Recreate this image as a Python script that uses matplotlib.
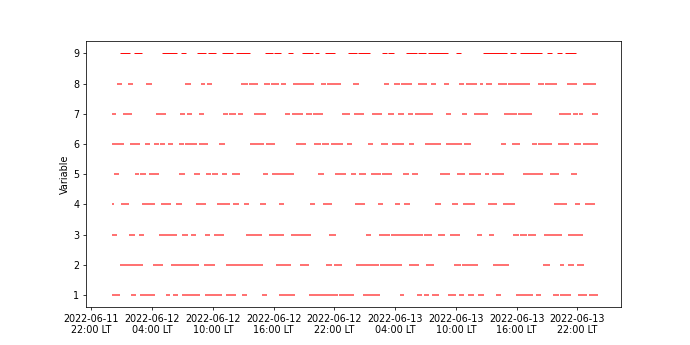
import numpy as np
import pandas as pd
import matplotlib
matplotlib.use("Agg")
import matplotlib.pyplot as plt
import matplotlib.dates as mdates

# availability windows per variable, hours after 2022-06-12 00:00 LT (start, end)
var1 = [(0.0, 0.86), (1.94, 2.44), (2.76, 4.31), (5.4, 5.8), (6.06, 6.52), (6.95, 8.76),
        (9.25, 10.9), (11.32, 12.31), (12.87, 13.37), (14.85, 15.34), (16.58, 18.13),
        (19.49, 22.35), (22.41, 23.89), (24.82, 26.46), (28.43, 28.92), (30.15, 30.64),
        (30.87, 31.39), (31.63, 32.32), (33.21, 34.03), (34.35, 34.84), (35.24, 35.74),
        (36.17, 36.82), (37.95, 38.44), (39.95, 41.66), (41.9, 42.42), (43.63, 44.13),
        (44.3, 45.35), (46.04, 46.99), (47.16, 47.98)]
var2 = [(0.79, 3.1), (4.05, 5.03), (5.89, 8.59), (9.08, 10.24), (11.32, 14.95),
        (16.26, 17.71), (18.64, 19.49), (21.13, 21.8), (22.0, 22.79), (24.13, 26.36),
        (26.52, 28.67), (29.32, 30.31), (31.07, 31.88), (33.84, 34.53), (34.63, 36.18),
        (37.65, 39.29), (42.59, 43.31), (44.23, 44.72), (45.11, 45.61), (45.94, 46.66)]
var3 = [(0.0, 0.53), (1.75, 2.27), (2.67, 3.16), (4.64, 6.46), (7.0, 7.5), (7.87, 8.36),
        (9.25, 9.74), (10.14, 11.06), (13.27, 14.85), (15.56, 16.98), (17.71, 19.68),
        (21.49, 22.18), (25.15, 25.64), (26.43, 27.45), (27.58, 30.74), (30.87, 31.63),
        (32.28, 32.94), (33.37, 34.42), (36.07, 36.62), (37.22, 37.78), (39.62, 40.18),
        (40.35, 41.01), (41.16, 41.92), (42.65, 44.46), (45.05, 46.5)]
var4 = [(0.0, 0.27), (0.96, 1.68), (3.03, 4.31), (4.91, 5.82), (6.39, 6.95), (8.36, 9.35),
        (10.43, 11.65), (11.97, 12.56), (13.03, 13.59), (14.61, 15.27), (16.55, 17.05),
        (19.55, 20.08), (20.87, 21.72), (24.06, 25.05), (26.3, 26.79), (27.94, 28.5),
        (28.92, 29.49), (31.95, 32.52), (33.6, 34.25), (34.69, 35.9), (37.12, 38.05),
        (38.64, 39.85), (43.7, 44.95), (45.8, 46.29), (46.78, 47.77)]
var5 = [(0.27, 0.76), (2.27, 2.73), (2.83, 3.43), (3.72, 4.64), (6.68, 7.21), (8.16, 8.69),
        (9.35, 9.81), (9.94, 10.46), (10.86, 11.39), (11.89, 12.71), (14.95, 15.44),
        (15.86, 18.03), (20.43, 20.93), (22.08, 23.16), (23.63, 24.16), (24.48, 25.14),
        (25.62, 26.62), (26.72, 27.68), (28.73, 29.32), (29.71, 30.25), (32.45, 33.37),
        (34.14, 34.93), (35.31, 36.5), (36.89, 37.31), (37.55, 38.77), (40.61, 41.17),
        (41.26, 42.59), (43.31, 44.13), (45.36, 45.93)]
var6 = [(0.07, 1.18), (1.85, 2.83), (3.33, 3.82), (4.22, 4.64), (4.78, 5.3), (5.6, 6.06),
        (6.61, 7.11), (7.21, 8.43), (8.66, 9.52), (10.63, 11.19), (13.69, 15.07),
        (15.27, 16.13), (18.23, 19.21), (19.94, 20.7), (20.8, 21.49), (21.69, 22.9),
        (23.2, 23.73), (25.27, 25.8), (26.65, 27.29), (27.71, 28.83), (29.39, 29.88),
        (30.97, 32.55), (33.04, 34.59), (34.81, 35.48), (38.44, 38.96), (39.56, 40.35),
        (41.53, 42.0), (42.15, 43.47), (44.1, 45.19), (45.61, 46.34), (46.53, 48.0)]
var7 = [(0.0, 0.43), (1.09, 2.01), (4.38, 5.37), (6.78, 7.28), (7.44, 7.94), (8.59, 9.12),
        (11.03, 11.49), (11.62, 12.24), (12.48, 12.97), (14.02, 14.61), (14.68, 15.24),
        (17.12, 17.64), (17.77, 18.95), (19.22, 19.78), (19.88, 20.87), (22.8, 23.56),
        (23.89, 24.88), (25.74, 26.72), (27.34, 27.91), (28.33, 28.83), (29.22, 29.75),
        (29.98, 31.73), (33.04, 33.5), (34.65, 35.11), (35.74, 37.12), (38.77, 40.02),
        (40.12, 41.5), (44.2, 45.35), (45.55, 46.04), (46.14, 46.59), (47.42, 48.0)]
var8 = [(0.53, 1.06), (1.65, 2.11), (3.43, 4.02), (7.28, 7.88), (8.79, 9.25), (9.45, 9.94),
        (12.8, 13.49), (13.59, 14.45), (15.04, 15.67), (15.79, 16.49), (16.72, 17.25),
        (17.87, 19.94), (20.7, 21.19), (21.29, 22.67), (23.85, 24.44), (26.92, 27.44),
        (27.84, 28.5), (28.6, 29.65), (30.21, 31.19), (31.56, 32.05), (32.87, 33.31),
        (34.29, 34.75), (35.01, 36.07), (36.4, 36.72), (37.0, 37.55), (38.14, 39.03),
        (39.13, 41.33), (42.15, 42.71), (42.84, 43.97), (45.01, 45.94), (46.5, 47.85)]
var9 = [(0.86, 1.78), (2.17, 3.0), (5.0, 6.5), (6.88, 7.37), (8.43, 9.35), (9.48, 10.27),
        (10.93, 11.98), (12.31, 13.62), (15.1, 15.93), (16.06, 16.72), (17.44, 17.9),
        (18.85, 19.88), (20.04, 20.53), (21.07, 22.05), (23.3, 24.23), (24.36, 25.54),
        (26.72, 27.19), (27.31, 27.9), (29.09, 30.15), (30.27, 31.06), (31.26, 33.17),
        (33.96, 34.49), (36.72, 39.03), (39.36, 39.95), (40.35, 42.49), (42.98, 43.47),
        (44.03, 44.52), (44.79, 45.84)]

variables = [var1, var2, var3, var4, var5, var6, var7, var8, var9]
t0 = pd.Timestamp("2022-06-12 00:00")

fig, ax = plt.subplots(figsize=(10, 5), dpi=69)

for i, windows in enumerate(variables):
    y = i + 1
    w = np.array(windows)
    starts = mdates.date2num(t0 + pd.to_timedelta(w[:, 0], unit="h"))
    ends = mdates.date2num(t0 + pd.to_timedelta(w[:, 1], unit="h"))
    ys = np.full(len(w), y)
    if y == 9:
        ax.hlines(ys, starts, ends, color="red", linewidth=1.0)
    else:
        ax.hlines(ys, starts, ends, color="red", linewidth=1.9, alpha=0.6)

ax.xaxis_date()
ax.set_xlim(t0 - pd.Timedelta(hours=2.5), t0 + pd.Timedelta(hours=50.3))
ax.set_ylim(0.6, 9.4)
ax.set_yticks(range(1, 10))
ax.set_ylabel("Variable")

ax.xaxis.set_major_locator(mdates.HourLocator(byhour=[4, 10, 16, 22]))
ax.xaxis.set_major_formatter(mdates.DateFormatter("%Y-%m-%d\n%H:%M LT"))

fig.savefig("out.png", dpi=69)
